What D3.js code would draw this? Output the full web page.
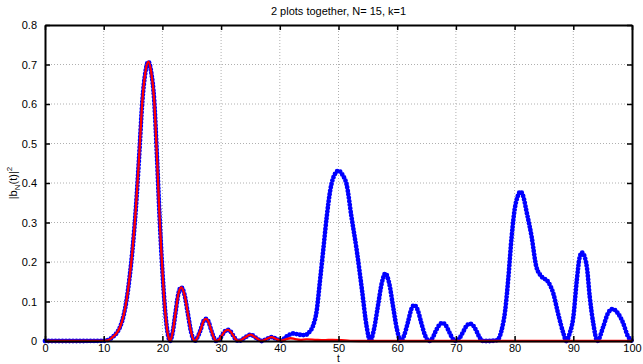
<!DOCTYPE html>
<html>
<head>
<meta charset="utf-8">
<script src="https://cdn.jsdelivr.net/npm/d3@7/dist/d3.min.js"></script>
<style>
  body { margin: 0; background: #fff; }
  svg { display: block; }
  text { font-family: "Liberation Sans", Arial, sans-serif; fill: #000; }
</style>
</head>
<body>
<svg id="chart" width="643" height="364"></svg>
<script>
// axis ticks
const xTicks = [0, 10, 20, 30, 40, 50, 60, 70, 80, 90, 100];
const yTicks = [0, 0.1, 0.2, 0.3, 0.4, 0.5, 0.6, 0.7, 0.8];
const yTickLabels = ['0', '0.1', '0.2', '0.3', '0.4', '0.5', '0.6', '0.7', '0.8'];

// part that both series share (main peak and its side lobes)
const sharedT = [0, 5, 10, 11, 11.6, 12.2, 12.8, 13.4, 13.9, 14.4, 14.9, 15.5, 16.0, 16.6, 17.1, 17.6, 18.1, 18.6, 19.1, 19.5, 19.8, 20.2, 20.6, 21.0, 21.3,
  21.75, 22.2, 22.7, 23.2, 23.75, 24.35, 24.9, 25.5,
  26.0, 26.5, 27.0, 27.4, 27.85, 28.3, 28.75, 29.2,
  29.7, 30.15, 30.6, 31.1, 31.6, 32.05, 32.5, 33.0,
  34.0, 35.0, 35.95, 36.9,
  37.75, 38.6, 39.4, 40.2];
const sharedV = [0, 0, 0.0005, 0.004, 0.011, 0.02, 0.036, 0.065, 0.104, 0.16, 0.23, 0.34, 0.458, 0.61, 0.68, 0.707, 0.68, 0.61, 0.458, 0.32, 0.23, 0.13, 0.055, 0.012, 0,
  0.022, 0.068, 0.118, 0.136, 0.118, 0.068, 0.022, 0,
  0.01, 0.028, 0.05, 0.056, 0.049, 0.028, 0.009, 0,
  0.004, 0.014, 0.024, 0.028, 0.024, 0.014, 0.004, 0,
  0.008, 0.016, 0.008, 0,
  0.005, 0.01, 0.005, 0.001];

// blue after t = 40
const blueTailT = [41.2, 42.3, 43.3, 44.3, 45.0, 45.7, 46.3, 46.8, 47.4, 48.0, 48.6, 49.3, 50.0, 50.7, 51.4, 52.2, 53.1, 54.0, 54.8, 55.4,
  56.05, 56.7, 57.35, 58.0, 58.65, 59.3, 59.95, 60.6,
  61.2, 61.8, 62.4, 62.9, 63.5, 64.1, 64.75, 65.4,
  66.0, 66.5, 67.1, 67.7, 68.3, 68.85, 69.4, 70.0,
  70.6, 71.2, 71.8, 72.4, 73.0, 73.6, 74.1, 74.6,
  75.5, 77.0, 77.8, 78.4, 78.9, 79.5, 80.0, 80.5, 81.0, 81.5, 82.0, 82.9, 83.7, 84.6, 85.7, 86.6, 87.4, 88.3, 88.8,
  89.4, 90.0, 90.6, 91.1, 91.5, 92.3, 92.8, 93.4, 94.1,
  95.1, 95.9, 96.7, 97.6, 98.5, 99.3, 100];
const blueTailV = [0.012, 0.019, 0.016, 0.015, 0.022, 0.04, 0.078, 0.146, 0.23, 0.315, 0.382, 0.42, 0.431, 0.42, 0.395, 0.315, 0.23, 0.129, 0.036, 0,
  0.03, 0.087, 0.145, 0.171, 0.145, 0.087, 0.03, 0,
  0.015, 0.046, 0.08, 0.091, 0.078, 0.046, 0.014, 0,
  0.007, 0.023, 0.039, 0.046, 0.039, 0.023, 0.007, 0,
  0.007, 0.022, 0.038, 0.044, 0.038, 0.022, 0.007, 0,
  0, 0.002, 0.028, 0.078, 0.154, 0.264, 0.332, 0.365, 0.378, 0.365, 0.33, 0.264, 0.188, 0.163, 0.15, 0.12, 0.07, 0.02, 0,
  0.02, 0.06, 0.154, 0.213, 0.224, 0.188, 0.112, 0.045, 0,
  0.036, 0.07, 0.081, 0.07, 0.045, 0.012, 0];

// red after t = 40
const redTailT = [41.0, 41.8, 42.6, 43.5, 44.6, 46, 47.5, 49, 50.5, 52, 55, 100];
const redTailV = [0.004, 0.007, 0.005, 0.003, 0.004, 0.003, 0.002, 0.003, 0.002, 0.0005, 0, 0];

const blueT = sharedT.concat(blueTailT), blueV = sharedV.concat(blueTailV);
const redT = sharedT.concat(redTailT), redV = sharedV.concat(redTailV);

const svg = d3.select('#chart');
const margin = { top: 25, right: 11, bottom: 23, left: 45 };
const width = 643 - margin.left - margin.right;
const height = 364 - margin.top - margin.bottom;

const x = d3.scaleLinear().domain([0, 100]).range([0, width]);
const y = d3.scaleLinear().domain([0, 0.8]).range([height, 0]);

const g = svg.append('g').attr('transform', `translate(${margin.left},${margin.top})`);

// grid
g.append('g').selectAll('line')
    .data(xTicks.slice(1, -1))
    .enter().append('line')
    .attr('x1', d => x(d)).attr('x2', d => x(d))
    .attr('y1', 0).attr('y2', height)
    .attr('stroke', '#b0b0b0').attr('stroke-width', 1)
    .attr('stroke-dasharray', '1,2');
g.append('g').selectAll('line')
    .data(yTicks.slice(1, -1))
    .enter().append('line')
    .attr('y1', d => y(d)).attr('y2', d => y(d))
    .attr('x1', 0).attr('x2', width)
    .attr('stroke', '#b0b0b0').attr('stroke-width', 1)
    .attr('stroke-dasharray', '1,2');

// blue dots
const blueData = blueT.map((t, i) => [t, blueV[i]]);
const redData = redT.map((t, i) => [t, redV[i]]);
const line = d3.line().x(d => x(d[0])).y(d => y(d[1])).curve(d3.curveMonotoneX);

g.append('path')
    .datum(blueData)
    .attr('d', line)
    .attr('fill', 'none')
    .attr('stroke', '#0000ff')
    .attr('stroke-width', 4.8)
    .attr('stroke-linecap', 'round')
    .attr('stroke-dasharray', '0,3.5');

g.append('path')
    .datum(redData)
    .attr('d', line)
    .attr('fill', 'none')
    .attr('stroke', '#ff0000')
    .attr('stroke-width', 2.3);

// axes, MATLAB style box with inward ticks
const xAxis = g.append('g').attr('transform', `translate(0,${height})`)
    .call(d3.axisBottom(x).tickValues(xTicks).tickSizeInner(-5).tickSizeOuter(0).tickPadding(3));
const xTop = g.append('g')
    .call(d3.axisTop(x).tickValues(xTicks).tickSizeInner(-5).tickSizeOuter(0).tickFormat(''));
const yAxis = g.append('g')
    .call(d3.axisLeft(y).tickValues(yTicks).tickSizeInner(-5).tickSizeOuter(0).tickPadding(8)
        .tickFormat((d, i) => yTickLabels[i]));
const yRight = g.append('g').attr('transform', `translate(${width},0)`)
    .call(d3.axisRight(y).tickValues(yTicks).tickSizeInner(-5).tickSizeOuter(0).tickFormat(''));

[xAxis, xTop, yAxis, yRight].forEach(a => {
    a.select('.domain').attr('stroke', '#000').attr('stroke-width', 2);
    a.selectAll('.tick line').attr('stroke', '#000').attr('stroke-width', 1.5);
    a.selectAll('text').attr('font-size', '11px').style('font-family', '"Liberation Sans", Arial, sans-serif');
});

// title and labels
svg.append('text')
    .attr('x', margin.left + width / 2)
    .attr('y', 15)
    .attr('text-anchor', 'middle')
    .attr('font-size', '11px')
    .text('2 plots together, N= 15, k=1');

svg.append('text')
    .attr('x', margin.left + width / 2)
    .attr('y', 362)
    .attr('text-anchor', 'middle')
    .attr('font-size', '10px')
    .text('t');

const yl = svg.append('text')
    .attr('transform', `translate(17,${margin.top + height / 2}) rotate(-90)`)
    .attr('text-anchor', 'middle')
    .attr('font-size', '11px');
yl.append('tspan').text('|b');
yl.append('tspan').attr('font-size', '8px').attr('dy', 3).text('N');
yl.append('tspan').attr('dy', -3).text('(t)|');
yl.append('tspan').attr('font-size', '8px').attr('dy', -5).text('2');
</script>
</body>
</html>
